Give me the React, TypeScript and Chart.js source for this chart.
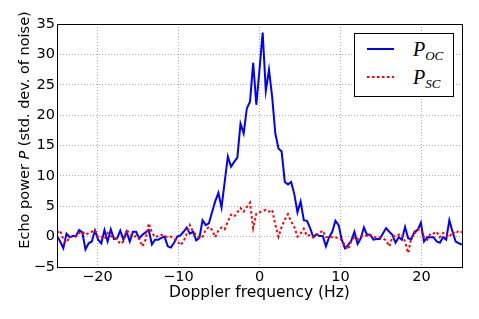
import React, { useEffect, useRef } from 'react';
import { Chart, registerables } from 'chart.js';

Chart.register(...registerables);

// Echo power P_OC (blue, solid), one value per Doppler bin from -25 Hz to +25 Hz
const blueOC = [
  0.1, -0.8, -1.9, 0.5, -0.1, 0.1, 0.1, 1.1, 0.7, -2.1,
  -1.1, -0.8, 1.0, -0.5, -1.1, 1.1, -0.8, 1.2, -0.4, -0.3,
  1.0, -0.5, 0.8, -0.8, 0.8, 0.8, -0.3, 0.3, 0.7, 1.1,
  -1.3, -0.5, -0.5, -0.2, 0.0, -1.6, -1.8, -1.0, 0.0, 0.2,
  0.8, 1.5, 0.5, 0.8, -0.6, -0.2, 2.7, 1.9, 2.2, 4.0,
  5.8, 7.2, 4.8, 9.0, 13.2, 11.5, 12.3, 13.0, 18.6, 17.0,
  21.1, 22.2, 28.6, 21.7, 27.5, 33.6, 24.0, 27.5, 23.0, 17.0,
  14.5, 14.0, 9.0, 8.6, 9.0, 7.0, 4.0, 5.8, 2.7, 2.6,
  1.4, -0.1, 0.4, 0.1, 0.1, -1.6, -0.1, 0.8, 2.6, 1.9,
  -0.5, -1.9, -1.4, -0.7, 0.8, -1.2, -0.3, 1.5, 0.3, 0.3,
  -0.5, -0.4, -0.4, 0.5, 1.4, 0.8, 0.3, -1.0, -0.1, -0.5,
  1.6, -0.3, -0.4, 0.8, 1.1, 2.3, -0.8, -0.1, -0.1, -0.1,
  -0.8, -1.0, -0.1, -0.5, 2.7, 0.8, -0.8, -1.1, -1.3,
];

// Echo power P_SC (red, dashed)
const redSC = [
  0.6, 1.0, -0.5, -1.0, 0.0, -0.1, 0.0, 0.6, 0.8, 0.3,
  0.6, 0.8, 1.1, -0.1, -0.1, -0.4, 0.6, 0.1, -0.1, -0.5,
  -1.2, -0.8, 1.1, 0.5, -0.1, 0.1, -0.4, -1.6, -0.5, 2.2,
  0.7, -0.1, 0.1, 0.3, 0.1, -0.1, 0.0, -0.3, -0.7, -1.4,
  -0.8, 0.5, 1.9, 0.8, 0.3, -0.2, 0.0, 1.1, 1.6, 1.1,
  -0.1, 1.0, 1.5, 1.2, 2.5, 3.6, 3.3, 4.0, 4.7, 4.1,
  4.9, 5.6, 1.4, 3.8, 4.0, 4.2, 4.4, 4.1, 4.4, 2.0,
  0.0, 1.6, 2.8, 3.7, 2.5, 1.6, 0.0, 0.5, 1.3, 0.1,
  0.3, -0.1, 0.3, 0.6, 1.0, -0.1, 0.0, -0.1, -0.1, -0.3,
  -0.5, -1.5, -2.1, -0.8, -0.1, -0.4, 0.0, 0.3, 0.1, 0.3,
  -0.1, -0.1, -0.1, -0.3, -0.6, -1.6, -0.1, 0.2, 0.3, 0.4,
  -0.8, -2.7, -0.1, 0.5, 1.2, 1.1, -0.1, -0.5, 0.5, 0.5,
  0.8, -0.1, 0.6, 0.3, -0.1, 0.8, 0.5, 1.0, 0.7,
];

const freqMin = -25;
const freqMax = 25;
const freqs = blueOC.map((_, i) => freqMin + (i * (freqMax - freqMin)) / (blueOC.length - 1));

const xTicks = [-20, -10, 0, 10, 20];
const yTicks = [-5, 0, 5, 10, 15, 20, 25, 30, 35];
const yMin = -5;
const yMax = 35;

const xTitle = 'Doppler frequency (Hz)';
const yTitleBefore = 'Echo power ';
const yTitleSymbol = 'P';
const yTitleAfter = ' (std. dev. of noise)';
const seriesSubscripts = ['OC', 'SC'];

const FONT = "'DejaVu Sans', sans-serif";

const fmt = (v: number | string) => String(v).replace('-', '\u2212');

const framePlugin = {
  id: 'frameAndYTitle',
  afterDraw(chart: any) {
    const { ctx, chartArea: a } = chart;
    ctx.save();
    ctx.strokeStyle = '#000';
    ctx.lineWidth = 1;
    const l = Math.round(a.left) + 0.5;
    const t = Math.round(a.top) + 0.5;
    const r = Math.round(a.right) + 0.5;
    const b = Math.round(a.bottom) + 0.5;
    ctx.strokeRect(l, t, r - l, b - t);
    ctx.restore();

    // y-axis title with italic P
    ctx.save();
    ctx.fillStyle = '#000';
    ctx.textBaseline = 'middle';
    ctx.textAlign = 'left';
    const normal = `14.5px ${FONT}`;
    const italic = `italic 14.5px ${FONT}`;
    ctx.font = normal;
    const w1 = ctx.measureText(yTitleBefore).width;
    const w3 = ctx.measureText(yTitleAfter).width;
    ctx.font = italic;
    const w2 = ctx.measureText(yTitleSymbol).width;
    const total = w1 + w2 + w3;
    ctx.translate(25, 130);
    ctx.rotate(-Math.PI / 2);
    let x = -total / 2;
    ctx.font = normal;
    ctx.fillText(yTitleBefore, x, 0);
    x += w1;
    ctx.font = italic;
    ctx.fillText(yTitleSymbol, x, 0);
    x += w2;
    ctx.font = normal;
    ctx.fillText(yTitleAfter, x, 0);
    ctx.restore();
  },
};

function LegendRow({ top, color, dash, sub }: { top: number; color: string; dash?: string; sub: string }) {
  return (
    <>
      <svg
        style={{ position: 'absolute', left: 366, top: top - 4, width: 30, height: 8, overflow: 'visible' }}
        width={30}
        height={8}
      >
        <line x1={1} y1={4} x2={28} y2={4} stroke={color} strokeWidth={2} strokeDasharray={dash} />
      </svg>
      <div
        style={{
          position: 'absolute',
          left: 413,
          top: top - 10,
          fontFamily: "'Liberation Serif', serif",
          fontStyle: 'italic',
          fontSize: 20,
          lineHeight: '20px',
          color: '#000',
          whiteSpace: 'nowrap',
        }}
      >
        P
        <span style={{ fontSize: 13, position: 'relative', top: 4 }}>{sub}</span>
      </div>
    </>
  );
}

export default function App() {
  const canvasRef = useRef<HTMLCanvasElement | null>(null);

  useEffect(() => {
    if (!canvasRef.current) return;
    const chart = new Chart(canvasRef.current, {
      type: 'line',
      data: {
        datasets: [
          {
            label: 'P_OC',
            data: freqs.map((f, i) => ({ x: f, y: blueOC[i] })),
            borderColor: '#0000ff',
            borderWidth: 2,
            pointRadius: 0,
            tension: 0,
            fill: false,
            order: 2,
          },
          {
            label: 'P_SC',
            data: freqs.map((f, i) => ({ x: f, y: redSC[i] })),
            borderColor: '#ff0000',
            borderWidth: 2,
            borderDash: [2.5, 2.5],
            pointRadius: 0,
            tension: 0,
            fill: false,
            order: 1,
          },
        ],
      },
      options: {
        animation: false,
        responsive: false,
        devicePixelRatio: 1,
        layout: { padding: { top: 24, right: 17, left: 0, bottom: 0 } },
        plugins: { legend: { display: false }, tooltip: { enabled: false } },
        scales: {
          x: {
            type: 'linear',
            min: freqMin,
            max: freqMax,
            afterBuildTicks: (s: any) => {
              s.ticks = xTicks.map((v) => ({ value: v }));
            },
            afterFit: (s: any) => {
              s.height = 52;
            },
            ticks: {
              color: '#000',
              font: { family: FONT, size: 14.5 },
              padding: 2,
              maxRotation: 0,
              autoSkip: false,
              callback: (v: any) => fmt(v),
            },
            grid: {
              color: '#aaaaaa',
              lineWidth: 1,
              drawTicks: false,
            },
            border: { display: false, dash: [1, 2] },
            title: {
              display: true,
              text: xTitle,
              color: '#000',
              font: { family: FONT, size: 15.5 },
              padding: { top: 0, bottom: 17 },
            },
          },
          y: {
            type: 'linear',
            min: yMin,
            max: yMax,
            afterBuildTicks: (s: any) => {
              s.ticks = yTicks.map((v) => ({ value: v }));
            },
            afterFit: (s: any) => {
              s.width = 57;
            },
            ticks: {
              color: '#000',
              font: { family: FONT, size: 14.5 },
              padding: 2,
              autoSkip: false,
              callback: (v: any) => fmt(v),
            },
            grid: {
              color: '#aaaaaa',
              lineWidth: 1,
              drawTicks: false,
            },
            border: { display: false, dash: [1, 2] },
          },
        },
      },
      plugins: [framePlugin],
    } as any);
    return () => chart.destroy();
  }, []);

  return (
    <div style={{ position: 'fixed', left: 0, top: 0, width: 479, height: 319, background: '#fff' }}>
      <canvas ref={canvasRef} width={479} height={319} style={{ position: 'absolute', left: 0, top: 0 }} />
      <div
        style={{
          position: 'absolute',
          left: 354,
          top: 33,
          width: 98,
          height: 62,
          border: '1px solid #000',
          background: '#fff',
        }}
      />
      <LegendRow top={49} color="#0000ff" sub={seriesSubscripts[0]} />
      <LegendRow top={77} color="#ff0000" dash="2.5 2.5" sub={seriesSubscripts[1]} />
    </div>
  );
}
